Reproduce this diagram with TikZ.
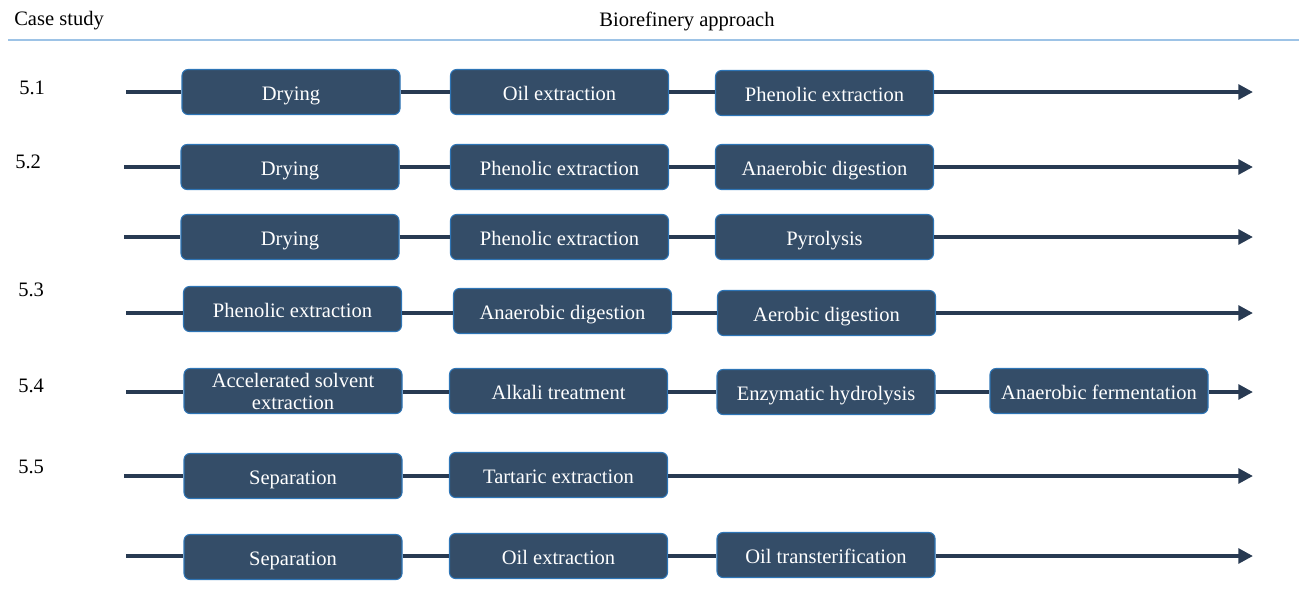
\documentclass[tikz,border=0pt]{standalone}
\usepackage{fontspec}
\setmainfont{Liberation Serif}
\usetikzlibrary{arrows.meta}
\definecolor{boxfill}{RGB}{52,77,104}
\definecolor{boxedge}{RGB}{46,117,182}
\definecolor{flowline}{RGB}{40,58,82}
\definecolor{headline}{RGB}{157,195,230}
\tikzset{
  boxbase/.style={draw=boxedge, line width=0.8pt, fill=boxfill, rounded corners=4.5pt,
    minimum width=163.5pt, minimum height=33.75pt, inner sep=0pt, text=white,
    font=\fontsize{15.4}{16.5}\selectfont, align=center},
  stepbox/.style={boxbase, text height=14pt, text depth=0.8pt},
  stepboxtwo/.style={boxbase},
  flow/.style={draw=flowline, line width=3pt},
  flowend/.style={flow, -{Triangle[length=11pt,width=11pt]}},
  lbl/.style={font=\fontsize{15.4}{17}\selectfont, inner sep=0pt, anchor=west}
}
\begin{document}
\begin{tikzpicture}[x=0.75pt,y=-0.75pt]
\useasboundingbox (0,0) rectangle (1299,612);
% header
\node[lbl] (hcase) at (14,21) {Case study};
\node[font=\fontsize{15.4}{17}\selectfont, inner sep=0pt] (happ) at (687,21) {Biorefinery approach};
\coordinate (hl) at (8,40);
\coordinate (hr) at (1299,40);
\draw[headline, line width=0.8pt] (hl) -- (hr);
% case labels
\node[lbl] (c51) at (19,88) {5.1};
\node[lbl] (c52) at (15,162) {5.2};
\node[lbl] (c53) at (18,290) {5.3};
\node[lbl] (c54) at (18,386) {5.4};
\node[lbl] (c55) at (18,467) {5.5};
% row 1
\coordinate (s1) at (126,92); \coordinate (e1) at (1253,92);
\node[stepbox] (a1) at (291,92) {Drying};
\node[stepbox] (a2) at (559.5,92) {Oil extraction};
\node[stepbox] (a3) at (824.5,93) {Phenolic extraction};
\draw[flow] (s1) -- (a1.west);
\draw[flow] (a1.east) -- (a2.west |- a1.east);
\draw[flow] (a2.east) -- (a3.west |- a2.east);
\draw[flowend] (a3.east |- s1) -- (e1);
% row 2
\coordinate (s2) at (124,167); \coordinate (e2) at (1253,167);
\node[stepbox] (b1) at (290,167) {Drying};
\node[stepbox] (b2) at (559.5,167) {Phenolic extraction};
\node[stepbox] (b3) at (824.5,167) {Anaerobic digestion};
\draw[flow] (s2) -- (b1.west);
\draw[flow] (b1.east) -- (b2.west);
\draw[flow] (b2.east) -- (b3.west);
\draw[flowend] (b3.east) -- (e2);
% row 3
\coordinate (s3) at (124,237); \coordinate (e3) at (1253,237);
\node[stepbox] (d1) at (290,237) {Drying};
\node[stepbox] (d2) at (559.5,237) {Phenolic extraction};
\node[stepbox] (d3) at (824.5,237) {Pyrolysis};
\draw[flow] (s3) -- (d1.west);
\draw[flow] (d1.east) -- (d2.west);
\draw[flow] (d2.east) -- (d3.west);
\draw[flowend] (d3.east) -- (e3);
% row 4
\coordinate (s4) at (126,313); \coordinate (e4) at (1253,313);
\node[stepbox] (f1) at (292.5,309) {Phenolic extraction};
\node[stepbox] (f2) at (562.5,311) {Anaerobic digestion};
\node[stepbox] (f3) at (826.5,313) {Aerobic digestion};
\draw[flow] (s4) -- (f1.west |- s4);
\draw[flow] (f1.east |- s4) -- (f2.west |- s4);
\draw[flow] (f2.east |- s4) -- (f3.west);
\draw[flowend] (f3.east) -- (e4);
% row 5
\coordinate (s5) at (126,392); \coordinate (e5) at (1253,392);
\node[stepboxtwo] (g1) at (293,391) {Accelerated solvent\\extraction};
\node[stepbox] (g2) at (558.5,391) {Alkali treatment};
\node[stepbox] (g3) at (826,392) {Enzymatic hydrolysis};
\node[stepbox] (g4) at (1099,391) {Anaerobic fermentation};
\draw[flow] (s5) -- (g1.west |- s5);
\draw[flow] (g1.east |- s5) -- (g2.west |- s5);
\draw[flow] (g2.east |- s5) -- (g3.west);
\draw[flow] (g3.east) -- (g4.west |- s5);
\draw[flowend] (g4.east |- s5) -- (e5);
% row 6
\coordinate (s6) at (124,476); \coordinate (e6) at (1253,476);
\node[stepbox] (h1) at (293,476) {Separation};
\node[stepbox] (h2) at (558.5,475) {Tartaric extraction};
\draw[flow] (s6) -- (h1.west);
\draw[flow] (h1.east) -- (h2.west |- h1.east);
\draw[flowend] (h2.east |- s6) -- (e6);
% row 7
\coordinate (s7) at (126,556); \coordinate (e7) at (1253,556);
\node[stepbox] (k1) at (293,557) {Separation};
\node[stepbox] (k2) at (558.5,556) {Oil extraction};
\node[stepbox] (k3) at (826,555) {Oil transterification};
\draw[flow] (s7) -- (k1.west |- s7);
\draw[flow] (k1.east |- s7) -- (k2.west);
\draw[flow] (k2.east) -- (k3.west |- s7);
\draw[flowend] (k3.east |- s7) -- (e7);
\end{tikzpicture}
\end{document}
